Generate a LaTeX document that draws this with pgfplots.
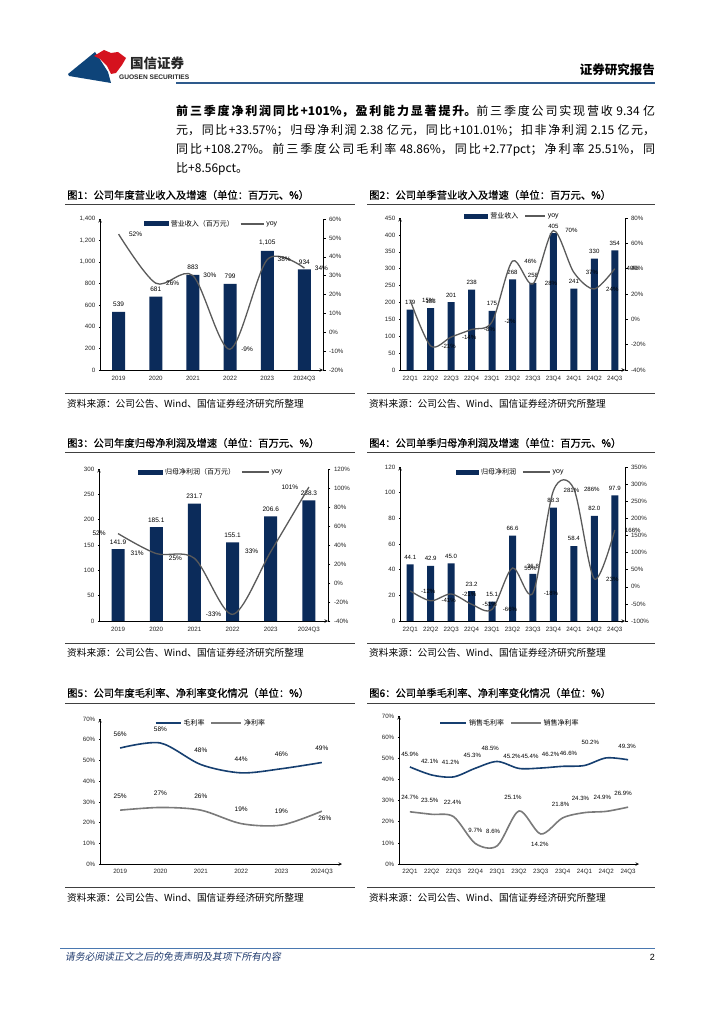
\documentclass[border=0pt]{standalone}
\usepackage{fontspec}
\setmainfont{Liberation Sans}
\newfontfamily\cjk{Noto Sans CJK SC}
\newfontfamily\cjkm[FakeBold=0.7]{Noto Sans CJK SC}
\newfontfamily\cjkit[FakeSlant=0.18]{Noto Sans CJK SC}
\usepackage{pgfplots}
\usepackage{pgfplotstable}
\pgfplotsset{compat=1.18}
\XeTeXlinebreaklocale "zh"
\XeTeXlinebreakskip=0pt plus 3pt

\definecolor{navy}{HTML}{0B2B5A}
\definecolor{ln}{HTML}{5A5A5A}
\definecolor{gmc}{HTML}{163F70}
\definecolor{nmc}{HTML}{7A7A7A}
\definecolor{hdr}{HTML}{2E5A8C}
\definecolor{lred}{HTML}{D5121E}
\definecolor{lblue}{HTML}{0E4479}
\definecolor{footblue}{HTML}{4A78B0}
\definecolor{footnavy}{HTML}{1F3A6E}
\definecolor{rulec}{HTML}{404040}

\newcommand\lab{\fontsize{6.5}{7}\selectfont}
\newcommand\labs{\fontsize{6.1}{7}\selectfont}

\pgfplotsset{
  cmn/.style={scale only axis, anchor=south west, clip=false, xmin=-0.5,
    axis line style={-, black, line width=0.6pt},
    tick align=outside, major tick length=2.5pt, tick style={black, line width=0.5pt},
    /pgf/number format/assume math mode=true, /pgf/number format/1000 sep={,},
    ticklabel style={font=\fontsize{6.2}{7}\selectfont, text=black!85}},
  barax/.style={cmn, axis x line=bottom, axis y line=left, ybar, ymin=0,
    xtick style={draw=none},
    legend style={draw=none, fill=none, anchor=center, legend columns=-1,
      font=\fontsize{7}{8}\selectfont, inner sep=0pt,
      /tikz/every even column/.append style={column sep=4pt}}},
  lineax/.style={cmn, axis x line=none, axis y line*=right,
    yticklabel={\pgfmathprintnumber{\tick}\%}},
  pctax/.style={cmn, axis x line=bottom, axis y line=left, xtick style={draw=none},
    ymin=0, ymax=70, ytick distance=10, yticklabel={\pgfmathprintnumber{\tick}\%},
    legend style={draw=none, fill=none, anchor=center, legend columns=-1,
      font=\fontsize{7}{8}\selectfont, inner sep=0pt,
      /tikz/every even column/.append style={column sep=4pt}}},
  barleg/.style={legend image code/.code={\fill[navy] (0pt,-2.5pt) rectangle (#1,2.5pt);}},
  lineleg/.style 2 args={legend image code/.code={\draw[#1, line width=1.5pt] (0pt,0pt) -- (#2,0pt);}},
  barlabels/.style={point meta=explicit symbolic, nodes near coords,
    nodes near coords style={font=#1, text=black, anchor=south, yshift=1.5pt}},
  linelabels/.style 2 args={point meta=explicit symbolic, nodes near coords={\pgfplotspointmeta\%},
    nodes near coords style={font=#1, text=black, anchor=center, xshift=#2}},
  varlabels/.style={point meta=explicit symbolic,
    visualization depends on={\thisrow{dx} \as \dx},
    visualization depends on={\thisrow{dy} \as \dy},
    nodes near coords={\pgfplotspointmeta\%},
    nodes near coords style={font=#1, text=black, anchor=center, xshift=\dx pt, yshift=\dy pt}},
}

% ---------- data ----------
\pgfplotstableread{
x y lab
0 539 539
1 681 681
2 883 883
3 799 799
4 1105 1,105
5 934 934
}\Ab
\pgfplotstableread{
x y lab
0 52 52
1 26 26
2 30 30
3 -9 -9
4 38.5 38
5 34 34
}\Al
\pgfplotstableread{
x y lab
0 179 179
1 183 183
2 201 201
3 238 238
4 175 175
5 268 268
6 258 258
7 405 405
8 241 241
9 330 330
10 354 354
}\Bb
\pgfplotstableread{
x y lab
0 15 15
1 -21 -21
2 -14 -14
3 -8 -8
4 -2 -2
5 46 46
6 28 28
7 70 70
8 37 37
9 24 24
10 40 40
}\Bl
\pgfplotstableread{
x y lab
0 141.9 141.9
1 185.1 185.1
2 231.7 231.7
3 155.1 155.1
4 206.6 206.6
5 238.3 238.3
}\Cb
\pgfplotstableread{
x y lab
0 52 52
1 31 31
2 26 25
3 -33 -33
4 33 33
5 101 101
}\Cl
\pgfplotstableread{
x y lab
0 44.1 44.1
1 42.9 42.9
2 45.0 45.0
3 23.2 23.2
4 15.1 15.1
5 66.6 66.6
6 36.8 36.8
7 88.3 88.3
8 58.4 58.4
9 82.0 82.0
10 97.9 97.9
}\Db
\pgfplotstableread{
x y lab
0 -12 -12
1 -41 -41
2 -21 -21
3 -51 -51
4 -66 -66
5 55 55
6 -18 -18
7 281 281
8 286 286
9 23 23
10 166 166
}\Dl
\pgfplotstableread{
x y lab dx dy
0 56 56 0 14
1 58.4 58 0 14
2 48 48 0 14
3 44 44 0 14
4 46 46 0 14
5 49 49 0 14
}\Eg
\pgfplotstableread{
x y lab dx dy
0 26 25 0 14
1 27.3 27 0 14
2 26 26 0 14
3 19.5 19 0 14
4 18.8 19 0 14
5 25.5 26 3 -7
}\En
\pgfplotstableread{
x y lab dx dy
0 45.9 45.9 0 13
1 42.1 42.1 -2 14
2 41.2 41.2 -3 15
3 45.3 45.3 -3 13
4 48.5 48.5 -7 13
5 45.2 45.2 -7 12
6 45.4 45.4 -11 12
7 46.2 46.2 -12 12
8 46.6 46.6 -16 12
9 50.2 50.2 -16 15
10 49.3 49.3 -1 13
}\Fg
\pgfplotstableread{
x y lab dx dy
0 24.7 24.7 0 14
1 23.5 23.5 -2 14
2 22.4 22.4 -1 14
3 9.7 9.7 0 13
4 8.6 8.6 -4 14
5 25.1 25.1 -6 14
6 14.2 14.2 -1 -10
7 21.8 21.8 -2 14
8 24.3 24.3 -4 14
9 24.9 24.9 -4 14
10 26.9 26.9 -5 14
}\Fn

\begin{document}
\begin{tikzpicture}
\begin{scope}[x=1pt,y=-1pt]
\fill[white] (0,0) rectangle (724,1024);
% logo
\fill[lblue] (68,74) -- (95,52) -- (101,61) -- (108,72) -- (111,83) -- (99,81) -- (69,76) -- cycle;
\fill[lred] (94,56) -- (104,50) -- (111,53) -- (118,52) -- (126,58) -- (122,65) -- (116,73) -- (111,74) -- (107,66) -- (100,59) -- cycle;
\node[anchor=west, inner sep=0, font=\cjk\bfseries\fontsize{13.5}{14}\selectfont, text=black!85] at (130,63) {国信证券};
\node[anchor=west, inner sep=0, font=\bfseries\fontsize{6.6}{7}\selectfont, text=black!85] at (119,77) {GUOSEN SECURITIES};
\node[anchor=east, inner sep=0, font=\cjk\bfseries\fontsize{12.5}{13}\selectfont] at (655,70) {证券研究报告};
\draw[hdr, line width=2pt] (176,83) -- (655,83);
% paragraph
\node[anchor=north west, inner sep=0, text width=479pt, align=justify, font=\cjk\fontsize{12}{19}\selectfont] at (176,105)
{{\bfseries 前三季度净利润同比+101\%，盈利能力显著提升。}前三季度公司实现营收 9.34 亿\linebreak
元，同比+33.57\%；归母净利润 2.38 亿元，同比+101.01\%；扣非净利润 2.15 亿元，\linebreak
同比+108.27\%。前三季度公司毛利率 48.86\%，同比+2.77pct；净利率 25.51\%，同\linebreak
比+8.56pct。};
% titles and rules
\foreach \xa/\xb/\xt in {65/355/67, 367/655/369}{
  \draw[rulec, line width=0.9pt] (\xa,204) -- (\xb,204);
  \draw[rulec, line width=0.9pt] (\xa,393) -- (\xb,393);
  \draw[rulec, line width=0.9pt] (\xa,452) -- (\xb,452);
  \draw[rulec, line width=0.9pt] (\xa,643) -- (\xb,643);
  \draw[rulec, line width=0.9pt] (\xa,703) -- (\xb,703);
  \draw[rulec, line width=0.9pt] (\xa,887) -- (\xb,887);
  \node[anchor=west, inner sep=0, font=\cjk\fontsize{9.7}{11}\selectfont] at (\xt,404) {资料来源：公司公告、Wind、国信证券经济研究所整理};
  \node[anchor=west, inner sep=0, font=\cjk\fontsize{9.7}{11}\selectfont] at (\xt,653) {资料来源：公司公告、Wind、国信证券经济研究所整理};
  \node[anchor=west, inner sep=0, font=\cjk\fontsize{9.7}{11}\selectfont] at (\xt,898) {资料来源：公司公告、Wind、国信证券经济研究所整理};
}
\begin{scope}[every node/.style={anchor=west, inner sep=0, font=\cjkm\fontsize{10.3}{12}\selectfont}]
\node at (67,195) {图1：公司年度营业收入及增速（单位：百万元、\%）};
\node at (369,195) {图2：公司单季营业收入及增速（单位：百万元、\%）};
\node at (67,443) {图3：公司年度归母净利润及增速（单位：百万元、\%）};
\node at (369,443) {图4：公司单季归母净利润及增速（单位：百万元、\%）};
\node at (67,693) {图5：公司年度毛利率、净利率变化情况（单位：\%）};
\node at (369,693) {图6：公司单季毛利率、净利率变化情况（单位：\%）};
\end{scope}
% footer
\draw[footblue, line width=0.8pt] (60,948) -- (655,948);
\node[anchor=west, inner sep=0, font=\cjkit\fontsize{9.8}{11}\selectfont, text=footnavy] at (65,957) {请务必阅读正文之后的免责声明及其项下所有内容};
\node[anchor=east, inner sep=0, font=\fontsize{9}{10}\selectfont] at (655,957) {2};
\end{scope}

% ---------- Chart 1 ----------
\begin{axis}[barax, at={(100pt,-370pt)}, width=223pt, height=151pt, xmax=5.5,
  ymax=1400, ytick distance=200, bar width=13pt,
  xtick={0,...,5}, xticklabels={2019,2020,2021,2022,2023,2024Q3},
  legend style={at={(0.5,0.967)}}]
\addplot[fill=navy, draw=none, barleg=25pt, barlabels=\lab] table[x=x,y=y,meta=lab]{\Ab};
\addlegendentry{\cjk 营业收入（百万元）}
\addlegendimage{lineleg={ln}{23pt}}
\addlegendentry{yoy}
\end{axis}
\begin{axis}[lineax, at={(100pt,-370pt)}, width=223pt, height=151pt, xmax=5.5,
  ymin=-20, ymax=60, ytick distance=10]
\addplot[ln, line width=1.3pt, smooth, linelabels={\lab}{17pt}] table[x=x,y=y,meta=lab]{\Al};
\end{axis}

% ---------- Chart 2 ----------
\begin{axis}[barax, at={(400pt,-370pt)}, width=225pt, height=152pt, xmax=10.5,
  ymax=450, ytick distance=50, bar width=7pt,
  xtick={0,...,10}, xticklabels={22Q1,22Q2,22Q3,22Q4,23Q1,23Q2,23Q3,23Q4,24Q1,24Q2,24Q3},
  legend style={at={(0.5,1.013)}}]
\addplot[fill=navy, draw=none, barleg=24pt, barlabels=\labs] table[x=x,y=y,meta=lab]{\Bb};
\addlegendentry{\cjk 营业收入}
\addlegendimage{lineleg={ln}{20pt}}
\addlegendentry{yoy}
\end{axis}
\begin{axis}[lineax, at={(400pt,-370pt)}, width=225pt, height=152pt, xmax=10.5,
  ymin=-40, ymax=80, ytick distance=20]
\addplot[ln, line width=1.3pt, smooth, linelabels={\labs}{18pt}] table[x=x,y=y,meta=lab]{\Bl};
\end{axis}

% ---------- Chart 3 ----------
\begin{axis}[barax, at={(99pt,-621pt)}, width=229pt, height=152pt, xmax=5.5,
  ymax=300, ytick distance=50, bar width=13pt,
  xtick={0,...,5}, xticklabels={2019,2020,2021,2022,2023,2024Q3},
  legend style={at={(0.49,0.98)}}]
\addplot[fill=navy, draw=none, barleg=25pt, barlabels=\lab] table[x=x,y=y,meta=lab]{\Cb};
\addlegendentry{\cjk 归母净利润（百万元）}
\addlegendimage{lineleg={ln}{27pt}}
\addlegendentry{yoy}
\end{axis}
\begin{axis}[lineax, at={(99pt,-621pt)}, width=229pt, height=152pt, xmax=5.5,
  ymin=-40, ymax=120, ytick distance=20]
\addplot[ln, line width=1.3pt, smooth, linelabels={\lab}{-19pt}] table[x=x,y=y,meta=lab]{\Cl};
\end{axis}

% ---------- Chart 4 ----------
\begin{axis}[barax, at={(400pt,-621pt)}, width=225pt, height=154pt, xmax=10.5,
  ymax=120, ytick distance=20, bar width=7pt,
  xtick={0,...,10}, xticklabels={22Q1,22Q2,22Q3,22Q4,23Q1,23Q2,23Q3,23Q4,24Q1,24Q2,24Q3},
  legend style={at={(0.493,0.967)}}]
\addplot[fill=navy, draw=none, barleg=23pt, barlabels=\labs] table[x=x,y=y,meta=lab]{\Db};
\addlegendentry{\cjk 归母净利润}
\addlegendimage{lineleg={ln}{27pt}}
\addlegendentry{yoy}
\end{axis}
\begin{axis}[lineax, at={(400pt,-621pt)}, width=225pt, height=154pt, xmax=10.5,
  ymin=-100, ymax=350, ytick distance=50]
\addplot[ln, line width=1.3pt, smooth, linelabels={\labs}{18pt}] table[x=x,y=y,meta=lab]{\Dl};
\end{axis}

% ---------- Chart 5 ----------
\begin{axis}[pctax, at={(100pt,-864pt)}, width=242pt, height=145pt, xmax=5.5,
  xtick={0,...,5}, xticklabels={2019,2020,2021,2022,2023,2024Q3},
  legend style={at={(0.459,0.972)}}]
\addplot[gmc, line width=1.6pt, smooth, lineleg={gmc}{25pt}, varlabels=\lab] table[x=x,y=y,meta=lab]{\Eg};
\addlegendentry{\cjk 毛利率}
\addplot[nmc, line width=1.6pt, smooth, lineleg={nmc}{30pt}, varlabels=\lab] table[x=x,y=y,meta=lab]{\En};
\addlegendentry{\cjk 净利率}
\end{axis}

% ---------- Chart 6 ----------
\begin{axis}[pctax, at={(399pt,-864pt)}, width=240pt, height=148pt, xmax=10.5,
  xtick={0,...,10}, xticklabels={22Q1,22Q2,22Q3,22Q4,23Q1,23Q2,23Q3,23Q4,24Q1,24Q2,24Q3},
  legend style={at={(0.463,0.953)}}]
\addplot[gmc, line width=1.6pt, smooth, lineleg={gmc}{26pt}, varlabels=\labs] table[x=x,y=y,meta=lab]{\Fg};
\addlegendentry{\cjk 销售毛利率}
\addplot[nmc, line width=1.6pt, smooth, lineleg={nmc}{30pt}, varlabels=\labs] table[x=x,y=y,meta=lab]{\Fn};
\addlegendentry{\cjk 销售净利率}
\end{axis}
\end{tikzpicture}
\end{document}
